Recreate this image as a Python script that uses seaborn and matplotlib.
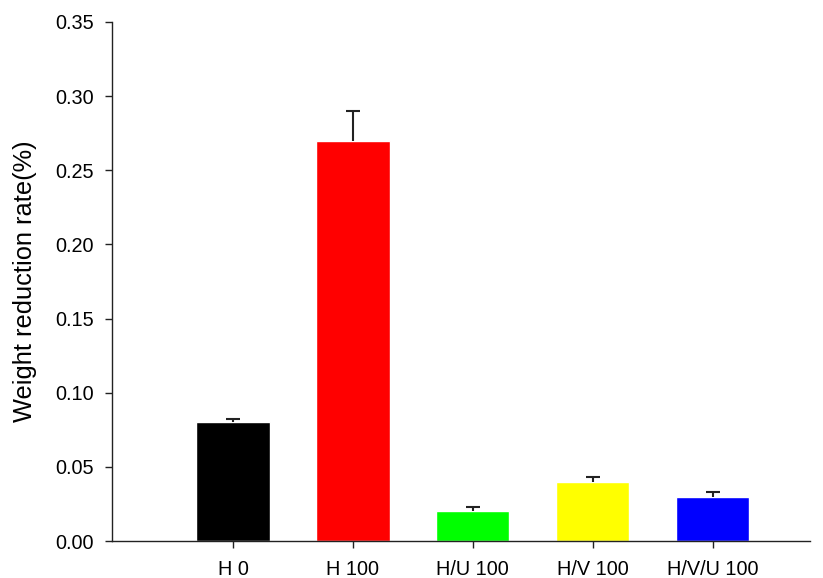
import matplotlib
matplotlib.use("Agg")
import matplotlib.pyplot as plt
import seaborn as sns
import pandas as pd

# data
groups = ["H 0", "H 100", "H/U 100", "H/V 100", "H/V/U 100"]
rates = [0.08, 0.27, 0.02, 0.04, 0.03]
errors = [0.002, 0.02, 0.003, 0.003, 0.003]
colors = ["#000000", "#ff0000", "#00ff00", "#ffff00", "#0000ff"]

df = pd.DataFrame({"group": groups, "rate": rates})

sns.set_style("ticks")
plt.rcParams["font.family"] = ["Liberation Sans", "DejaVu Sans"]

fig = plt.figure(figsize=(8.23, 5.78), dpi=100)
ax = fig.add_axes([0.136, 0.064, 0.848, 0.898])

sns.barplot(data=df, x="group", y="rate", hue="group", palette=colors,
            width=0.61, errorbar=None, legend=False, ax=ax, saturation=1)

# upper-only error bars, drop the lower cap
eb = ax.errorbar(range(len(groups)), rates, yerr=[[0] * len(errors), errors],
                 fmt="none", ecolor="#222222", elinewidth=1.5, capsize=5,
                 capthick=1.5)
eb[1][0].remove()

ax.set_xlim(-1.01, 4.81)
ax.set_ylim(0, 0.35)
ax.set_yticks([0, 0.05, 0.10, 0.15, 0.20, 0.25, 0.30, 0.35])
ax.set_yticklabels([f"{v:.2f}" for v in ax.get_yticks()])
ax.set_xlabel("")
ax.set_ylabel("Weight reduction rate(%)", fontsize=18.3, labelpad=13,
              color="black")
ax.tick_params(axis="both", labelsize=14.3, direction="out", length=5,
               width=1, colors="#222222", labelcolor="black")
ax.tick_params(axis="x", pad=9)
ax.tick_params(axis="y", pad=8)

for side in ["top", "right"]:
    ax.spines[side].set_visible(False)
for side in ["left", "bottom"]:
    ax.spines[side].set_color("#222222")
    ax.spines[side].set_linewidth(1)

fig.savefig("out.png", dpi=100)
